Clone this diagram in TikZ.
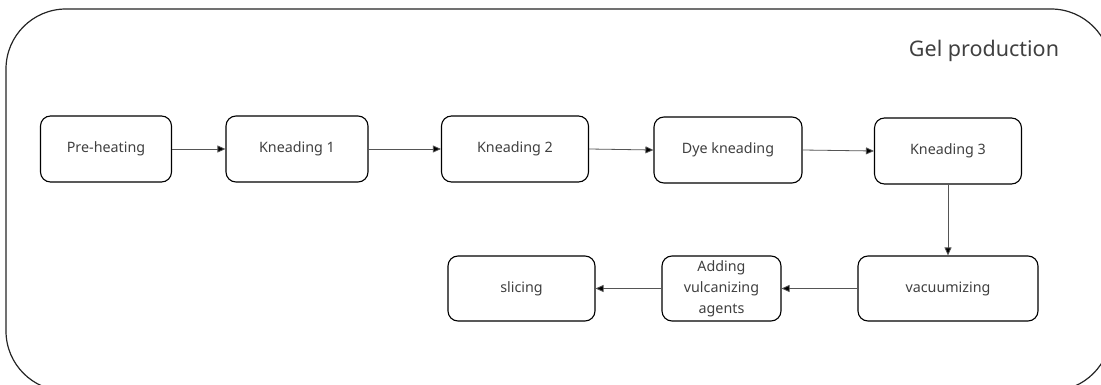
\documentclass[tikz,border=0pt]{standalone}
\usepackage{fontspec}
\setmainfont{Noto Sans}
\usetikzlibrary{arrows.meta}
\definecolor{txt}{HTML}{404040}
\definecolor{ln}{HTML}{555555}
\tikzset{
  stepbox/.style={draw=black, line width=1.1pt, rounded corners=10pt, minimum height=66pt,
    align=center, text=txt, font=\fontsize{14.3}{21}\selectfont, inner sep=2pt},
  flow/.style={draw=ln, line width=0.8pt, -{Triangle[length=8pt,width=7pt,fill=black]}},
}
\begin{document}
\begin{tikzpicture}[x=1pt,y=-1pt]
\useasboundingbox (0,0) rectangle (1101,385);
\clip (0,0) rectangle (1101,385);
\fill[white] (0,0) rectangle (1101,385);
\draw[line width=1.2pt, rounded corners=60pt, draw=black!85] (6,9) rectangle (1111,391);
\node[text=txt, font=\fontsize{21.5}{25}\selectfont, anchor=center] (title) at (984,51) {Gel production};

\node[stepbox, minimum width=131pt] (pre) at (106,149) {Pre-heating};
\node[stepbox, minimum width=142pt] (k1) at (297,149) {Kneading 1};
\node[stepbox, minimum width=147pt] (k2) at (515,149) {Kneading 2};
\node[stepbox, minimum width=148pt] (dye) at (728,150) {Dye kneading};
\node[stepbox, minimum width=147pt] (k3) at (948,151) {Kneading 3};
\node[stepbox, minimum width=180pt, minimum height=65pt] (vac) at (948,288.5) {vacuumizing};
\node[stepbox, minimum width=119pt, minimum height=65pt] (add) at (721.5,288.5) {Adding\\vulcanizing\\agents};
\node[stepbox, minimum width=147pt, minimum height=65pt] (sli) at (521.5,288.5) {slicing};

\draw[flow] (pre.east) -- (k1.west);
\draw[flow] (k1.east) -- (k2.west);
\draw[flow] (k2.east) -- (dye.west);
\draw[flow] (dye.east) -- (k3.west);
\draw[flow] (k3.south) -- (vac.north);
\draw[flow] (vac.west) -- (add.east);
\draw[flow] (add.west) -- (sli.east);
\end{tikzpicture}
\end{document}
